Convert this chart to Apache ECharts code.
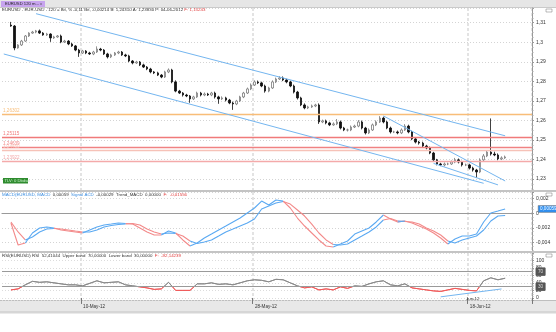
<!DOCTYPE html>
<html><head><meta charset="utf-8">
<script src="https://cdn.jsdelivr.net/npm/echarts@6/dist/echarts.min.js"></script>
<style>html,body{margin:0;padding:0;background:#fff}#c{width:556px;height:332px}</style>
</head><body><div id="c"></div><script>
// ---------- EUR/USD 6h bars: closes, opening price of the first bar, wick lengths (pips) ----------
const firstOpen = 1.3088;
const closes = [
 1.3083,1.2971,1.2986,1.3006,1.3032,1.3047,1.3052,1.3058,1.3047,1.3037,
 1.3042,1.3022,1.3027,1.3032,1.3001,1.3006,1.2991,1.2981,1.2960,1.2945,
 1.2955,1.2945,1.2940,1.2950,1.2965,1.2960,1.2940,1.2925,1.2935,1.2945,
 1.2950,1.2935,1.2930,1.2904,1.2894,1.2899,1.2884,1.2873,1.2863,1.2848,
 1.2843,1.2832,1.2822,1.2848,1.2858,1.2797,1.2750,1.2740,1.2730,1.2725,
 1.2710,1.2720,1.2740,1.2730,1.2735,1.2730,1.2740,1.2720,1.2710,1.2715,
 1.2704,1.2689,1.2684,1.2699,1.2720,1.2740,1.2761,1.2781,1.2797,1.2792,
 1.2776,1.2750,1.2766,1.2797,1.2812,1.2817,1.2807,1.2797,1.2776,1.2745,
 1.2715,1.2679,1.2664,1.2669,1.2674,1.2679,1.2592,1.2597,1.2587,1.2577,
 1.2582,1.2592,1.2561,1.2551,1.2551,1.2566,1.2571,1.2592,1.2561,1.2536,
 1.2551,1.2577,1.2592,1.2612,1.2592,1.2561,1.2541,1.2541,1.2536,1.2551,
 1.2571,1.2541,1.2505,1.2489,1.2484,1.2469,1.2459,1.2433,1.2398,1.2377,
 1.2372,1.2377,1.2377,1.2387,1.2398,1.2387,1.2372,1.2372,1.2356,1.2346,
 1.2336,1.2398,1.2418,1.2438,1.2428,1.2423,1.2403,1.2408,1.2413
];
const upperWickPips = [
 16,5,4,6,5,4,6,5,7,5,  6,4,6,5,7,6,5,6,5,6,  6,5,6,6,14,6,5,6,6,5,
 6,5,6,6,5,6,5,6,5,6,   5,6,5,6,8,6,8,6,5,6,  5,6,7,6,8,6,6,7,6,8,
 6,6,7,6,6,6,7,8,8,7,   6,7,6,8,7,9,8,6,6,7,  6,6,8,6,7,6,8,7,7,6,
 8,15,7,6,7,8,7,10,7,6, 8,7,8,10,7,6,7,6,7,8, 10,7,6,7,6,7,6,7,6,5,
 6,8,7,8,10,7,6,7,6,7,  6,8,10,10,172,12,8,8,7
];
const lowerWickPips = [
 4,12,4,5,4,5,4,6,5,4,  5,20,5,4,6,5,6,5,6,20, 5,6,5,6,5,6,5,8,6,5,
 6,5,6,6,7,5,6,5,6,7,   6,5,6,5,6,7,6,5,8,6,   20,6,5,7,6,5,6,8,25,6,
 7,6,30,6,5,6,5,6,5,6,  6,8,6,5,6,5,6,7,6,7,   8,6,7,6,5,6,10,6,7,6,
 5,6,7,6,8,6,5,6,7,8,   6,5,6,5,7,6,8,6,7,6,   5,7,6,7,8,6,7,6,8,7,
 6,7,6,5,6,7,8,6,7,8,   30,6,7,6,8,6,7,6,5
];

// ---------- indicators, one reading every second bar ----------
const macdValues = [
 -0.00132,-0.00431,-0.00404,-0.00268,-0.00200,-0.00186,-0.00200,-0.00227,-0.00241,-0.00254,
 -0.00268,-0.00227,-0.00186,-0.00159,-0.00146,-0.00132,-0.00139,-0.00146,-0.00200,-0.00254,
 -0.00295,-0.00295,-0.00241,-0.00268,-0.00363,-0.00445,-0.00404,-0.00336,-0.00282,-0.00227,
 -0.00173,-0.00118,-0.00064,0.00004,0.00072,0.00167,0.00113,0.00181,0.00167,0.00072,
 -0.00064,-0.00173,-0.00268,-0.00363,-0.00445,-0.00458,-0.00418,-0.00377,-0.00282,-0.00241,
 -0.00200,-0.00118,-0.00023,-0.00078,-0.00118,-0.00105,-0.00132,-0.00173,-0.00214,-0.00268,
 -0.00336,-0.00418,-0.00350,-0.00309,-0.00309,-0.00282,-0.00118,0.00004,0.00031,0.00059
];
const signalValues = [
 -0.00118,-0.00254,-0.00363,-0.00322,-0.00254,-0.00214,-0.00207,-0.00214,-0.00227,-0.00241,
 -0.00254,-0.00254,-0.00227,-0.00186,-0.00166,-0.00152,-0.00146,-0.00139,-0.00159,-0.00214,
 -0.00254,-0.00282,-0.00268,-0.00275,-0.00309,-0.00377,-0.00411,-0.00390,-0.00363,-0.00309,
 -0.00254,-0.00214,-0.00173,-0.00132,-0.00078,0.00058,0.00099,0.00140,0.00160,0.00126,
 0.00045,-0.00037,-0.00146,-0.00268,-0.00363,-0.00424,-0.00431,-0.00418,-0.00363,-0.00309,
 -0.00254,-0.00186,-0.00091,-0.00071,-0.00105,-0.00112,-0.00118,-0.00146,-0.00200,-0.00241,
 -0.00295,-0.00377,-0.00404,-0.00363,-0.00336,-0.00309,-0.00227,-0.00105,-0.00037,-0.00029
];
const rsiValues = [
 21.4,24.1,34.9,44.2,41.6,42.9,40.2,37.5,34.9,34.9,
 32.2,38.9,45.6,40.2,41.6,42.9,34.9,32.2,29.5,26.8,
 22.8,24.1,41.6,20.1,20.1,20.1,37.5,37.5,40.2,36.2,
 37.5,34.9,40.2,45.6,48.3,46.9,42.9,49.6,48.3,40.2,
 32.2,26.8,29.5,21.4,24.1,21.4,29.5,25.5,32.2,30.8,
 37.5,42.9,45.6,34.9,32.2,37.5,26.8,24.1,21.4,18.8,
 17.4,21.4,25.5,22.8,20.1,18.8,45.6,53.6,48.3,52.4
];
const indicatorStep = 2;

// ---------- drawn studies ----------
const levelPrices = [1.26302, 1.25115, 1.24639, 1.24450, 1.23922];
const levelColors = ['#f8bd78', '#f07a7a', '#f08282', '#f6c2b8', '#f4aaaa'];
// [barIndex, price] anchors of the trend lines
const priceTrendLines = [
  [[7, 1.31461], [138, 1.25212]],
  [[-2, 1.29398], [132, 1.22781]],
  [[104, 1.26230], [138, 1.22900]],
  [[118, 1.23800], [136, 1.22700]]
];
const rsiTrendLines = [[[120, 3.0], [137, 24.0]]];
const rsiBands = [70, 30];

// ---------- time axis ----------
const dateTicks = ['10-May-12', '28-May-12', '18-Jun-12'];
const monthNames = ['Jan','Feb','Mar','Apr','May','Jun','Jul','Aug','Sep','Oct','Nov','Dec'];
const slotCount = 148, leadSlots = 2;
const categories = [];
let t = Date.UTC(2012, 4, 2, 12);
while (categories.length < slotCount) {
  const d = new Date(t), dow = d.getUTCDay();
  if (dow !== 0 && dow !== 6) {
    categories.push(String(d.getUTCDate()).padStart(2, '0') + '-' + monthNames[d.getUTCMonth()] + '-' + String(d.getUTCFullYear()).slice(2));
  }
  t += 6 * 3600 * 1000;
}
const isDateTick = (i) => dateTicks.includes(categories[i]) && (i === 0 || categories[i - 1] !== categories[i]);

// ---------- build series data ----------
const candles = closes.map((c, k) => {
  const o = k === 0 ? firstOpen : closes[k - 1];
  const hi = Math.max(o, c) + upperWickPips[k] / 10000;
  const lo = Math.min(o, c) - lowerWickPips[k] / 10000;
  return [o, c, +lo.toFixed(5), +hi.toFixed(5)];
});
const candleData = categories.map((_, i) => {
  const k = i - leadSlots;
  return (k >= 0 && k < candles.length) ? candles[k] : '-';
});
const barOf = (j) => leadSlots + j * indicatorStep;

// MACD & signal are drawn blue while MACD leads, red otherwise
function splitLead(a, b) {
  const n = a.length, lead = [];
  for (let j = 0; j < n - 1; j++) lead.push(a[j + 1] >= b[j + 1]);
  const pick = (arr, want) => arr.map((v, j) => {
    const on = (j > 0 && lead[j - 1] === want) || (j < n - 1 && lead[j] === want);
    return [barOf(j), on ? v : '-'];
  });
  return { aUp: pick(a, true), aDn: pick(a, false), bUp: pick(b, true), bDn: pick(b, false) };
}
const ms = splitLead(macdValues, signalValues);
const rsiData = rsiValues.map((v, j) => [barOf(j), v]);

const BLUE = '#5aa9f2', RED = '#f38a8a', TREND = '#74b6f0';
const FONT = 'Liberation Sans';
const tinyLabel = { fontFamily: FONT, fontSize: 5, color: '#333' };

const grids = [
  { left: 2, right: 24, top: 8, height: 182 },
  { left: 2, right: 24, top: 192, height: 59 },
  { left: 2, right: 24, top: 253, height: 47 }
];
const xAxes = grids.map((g, gi) => ({
  type: 'category', gridIndex: gi, data: categories, boundaryGap: true,
  // the MACD panel's axis line sits on its zero level
  axisLine: gi === 1 ? { show: true, onZero: true, lineStyle: { color: '#9a9a9a', width: 1.2 } } : { show: false },
  axisTick: gi === 2 ? { show: true, interval: isDateTick, length: 6, lineStyle: { color: '#777' } } : { show: false },
  axisLabel: gi === 2 ? { show: true, interval: isDateTick, fontFamily: FONT, fontSize: 4.6, color: '#333', align: 'left', margin: 4, padding: [0, 0, 0, 0.5] } : { show: false },
  splitLine: { show: true, interval: isDateTick, lineStyle: { color: '#dadada', type: [3, 2], width: 1.5 } }
}));
const comma = (s) => s.replace('.', ',');
const yBase = {
  position: 'right', scale: true,
  axisLine: { show: true, onZero: false, lineStyle: { color: '#999' } },
  axisTick: { show: true, length: 2, lineStyle: { color: '#999' } },
  minorTick: { show: true, splitNumber: 4, length: 1.5, lineStyle: { color: '#aaa' } },
  splitLine: { show: true, lineStyle: { color: '#d4d4d4', type: [1, 2] } }
};
const yAxes = [
  Object.assign({}, yBase, { gridIndex: 0, min: 1.22438, max: 1.31752, minInterval: 0.01, maxInterval: 0.01,
    axisLabel: Object.assign({}, tinyLabel, { showMinLabel: false, showMaxLabel: false, margin: 4, formatter: v => comma(String(+v.toFixed(2))) }) }),
  Object.assign({}, yBase, { gridIndex: 1, min: -0.00513, max: 0.0029, minInterval: 0.002, maxInterval: 0.002,
    axisLabel: Object.assign({}, tinyLabel, { showMinLabel: false, showMaxLabel: false, margin: 4, formatter: v => Math.abs(v) < 1e-9 ? '0' : comma(v.toFixed(3)) }) }),
  Object.assign({}, yBase, { gridIndex: 2, min: -5.4, max: 119.5, minInterval: 20, maxInterval: 20,
    splitLine: { show: true, lineStyle: { color: '#dcdcdc', type: [1, 2] } },
    axisLabel: Object.assign({}, tinyLabel, { showMinLabel: false, showMaxLabel: false, margin: 4, formatter: v => String(Math.round(v)) }) })
];

const boxLabel = (bg, fg, text) => ({
  show: true, position: 'end', distance: 4, formatter: text, backgroundColor: bg, color: fg,
  fontFamily: FONT, fontSize: 4.6, padding: [1.5, 2, 1, 2], borderColor: '#666', borderWidth: 0.5
});
const lastClose = closes[closes.length - 1];
const lastMacd = macdValues[macdValues.length - 1];
const lastRsi = rsiValues[rsiValues.length - 1];
const markBase = { silent: true, symbol: ['none', 'none'], animation: false, precision: 6 };

const series = [
  {
    type: 'candlestick', xAxisIndex: 0, yAxisIndex: 0, data: candleData, barWidth: 2,
    itemStyle: { color: '#ffffff', color0: '#111111', borderColor: '#7a7a7a', borderColor0: '#111111', borderWidth: 0.8 },
    markLine: Object.assign({}, markBase, {
      data: [
        ...levelPrices.map((p, n) => ({
          yAxis: p, lineStyle: { color: levelColors[n], width: 1.3, type: 'solid' },
          label: { show: true, position: 'insideStartTop', distance: [1, 1], formatter: comma(p.toFixed(5)), color: levelColors[n], fontFamily: FONT, fontSize: 4.6 }
        })),
        ...priceTrendLines.map(l => [
          { coord: [l[0][0] + leadSlots, l[0][1]], lineStyle: { color: TREND, width: 1, type: 'solid' }, label: { show: false } },
          { coord: [l[1][0] + leadSlots, l[1][1]] }
        ]),
        { yAxis: lastClose, lineStyle: { opacity: 0 }, label: boxLabel('#f2471f', '#5a1000', comma(lastClose.toFixed(4))) }
      ]
    })
  },
  { type: 'line', xAxisIndex: 1, yAxisIndex: 1, data: ms.bDn, showSymbol: false, lineStyle: { color: RED, width: 1.1 }, z: 3 },
  { type: 'line', xAxisIndex: 1, yAxisIndex: 1, data: ms.bUp, showSymbol: false, lineStyle: { color: BLUE, width: 1.1 }, z: 3 },
  { type: 'line', xAxisIndex: 1, yAxisIndex: 1, data: ms.aDn, showSymbol: false, lineStyle: { color: RED, width: 1.1 }, z: 4 },
  { type: 'line', xAxisIndex: 1, yAxisIndex: 1, data: ms.aUp, showSymbol: false, lineStyle: { color: BLUE, width: 1.1 }, z: 4 },
  {
    type: 'line', xAxisIndex: 2, yAxisIndex: 2, data: rsiData, showSymbol: false, lineStyle: { width: 1 },
    markLine: Object.assign({}, markBase, {
      data: [
        ...rsiBands.map(b => ({ yAxis: b, lineStyle: { color: '#9a9a9a', width: 1.2, type: 'solid' }, label: boxLabel('#555555', '#dddddd', String(b)) })),
        ...rsiTrendLines.map(l => [
          { coord: [l[0][0] + leadSlots, l[0][1]], lineStyle: { color: TREND, width: 1, type: 'solid' }, label: { show: false } },
          { coord: [l[1][0] + leadSlots, l[1][1]] }
        ]),
        { yAxis: lastRsi, lineStyle: { opacity: 0 }, label: boxLabel('#f2471f', '#ffffff', comma(lastRsi.toFixed(2))) }
      ]
    })
  }
];

const txt = (x, y, rich, parts, z) => ({ type: 'text', left: x, top: y, z: z || 100, style: { rich, text: parts, font: '4.4px ' + FONT, fill: '#333' } });
const richBase = {
  k: { fontFamily: FONT, fontSize: 4.4, fill: '#333' },
  b: { fontFamily: FONT, fontSize: 4.4, fill: '#3b8de0' },
  r: { fontFamily: FONT, fontSize: 4.4, fill: '#e03a3a' }
};

const graphic = [
  { type: 'rect', shape: { x: 0, y: 0, width: 556, height: 7 }, style: { fill: '#e6e6e6' }, z: -1 },
  { type: 'rect', shape: { x: 0, y: 7, width: 556, height: 0.8 }, style: { fill: '#b8b8b8' }, z: -1 },
  { type: 'rect', shape: { x: 1, y: 1, width: 44, height: 6 }, style: { fill: '#c7a4ee' }, z: 1 },
  { type: 'text', left: 5, top: 2, z: 2, style: { text: 'EURUSD 120 m...', font: '4.2px ' + FONT, fill: '#222' } },
  { type: 'text', left: 40, top: 2, z: 2, style: { text: 'x', font: '4.2px ' + FONT, fill: '#555' } },
  txt(2, 8, richBase, '{k|EURUSD - EUR-USD - 120 = Bit, % -0,11 Bit, -0,00214 B: 1,24310 A: 1,23830 P: 04-06-2012} {r|F: 1,15243}'),
  { type: 'rect', shape: { x: 0, y: 190, width: 556, height: 2 }, style: { fill: '#c4c4c4' }, z: 5 },
  { type: 'rect', shape: { x: 0, y: 251, width: 556, height: 2 }, style: { fill: '#c4c4c4' }, z: 5 },
  txt(2, 192.3, richBase, '{b|MACD(EURUSD, MACD}{k|  0,00059  }{b|Signal ACD}{k|  -0,00029  Trend_MACD  0,00000  }{r|F:  -0,01556}'),
  txt(2, 253.3, richBase, '{k|RSI(EURUSD) RSI  52,41044  Upper band  70,00000  Lower band  30,00000  }{r|F:  -92,14239}'),
  { type: 'rect', shape: { x: 3, y: 178, width: 25, height: 5.5 }, style: { fill: '#2e8b2e' }, z: 50 },
  { type: 'text', left: 4.5, top: 178.8, z: 51, style: { text: 'TLV: 0 Dbdsd', font: '4.2px ' + FONT, fill: '#c8f0c8' } },
  { type: 'rect', shape: { x: 0, y: 300, width: 556, height: 11 }, style: { fill: '#e8e8e8' }, z: -1 },
  { type: 'rect', shape: { x: 0, y: 300, width: 556, height: 0.8 }, style: { fill: '#b0b0b0' }, z: -1 },
  { type: 'rect', shape: { x: 0, y: 311, width: 556, height: 2.5 }, style: { fill: '#d6d6d6' }, z: -1 },
  { type: 'text', left: 466, top: 297.2, z: 60, style: { text: 'Jun-12', font: '4.4px ' + FONT, fill: '#333' } },
  { type: 'rect', shape: { x: 546, y: 9, width: 6, height: 3 }, style: { fill: '#fff', stroke: '#777', lineWidth: 0.5 }, z: 60 },
  { type: 'rect', shape: { x: 546, y: 193, width: 6, height: 3 }, style: { fill: '#fff', stroke: '#777', lineWidth: 0.5 }, z: 60 },
  { type: 'rect', shape: { x: 546, y: 254, width: 6, height: 3 }, style: { fill: '#fff', stroke: '#777', lineWidth: 0.5 }, z: 60 }
];

const chart = echarts.init(document.getElementById('c'), null, { renderer: 'canvas' });
chart.setOption({
  animation: false,
  backgroundColor: '#ffffff',
  grid: grids,
  xAxis: xAxes,
  yAxis: yAxes,
  visualMap: [{
    show: false, type: 'piecewise', seriesIndex: 5, dimension: 1,
    pieces: [{ min: -10, max: 30, color: '#ef5a5a' }, { min: 30, max: 130, color: '#8a8a8a' }]
  }],
  series,
  graphic
});

// last MACD reading tag on the right scale, placed through the MACD axis
const macdTagY = chart.convertToPixel({ yAxisIndex: 1 }, lastMacd);
const axisX = chart.convertToPixel({ xAxisIndex: 1 }, slotCount - 1) + 535 - 527;
chart.setOption({
  graphic: graphic.concat([
    { type: 'rect', z: 70, shape: { x: axisX, y: macdTagY - 3.4, width: 19, height: 6.8 }, style: { fill: '#2f8ff0', stroke: '#666', lineWidth: 0.5 } },
    { type: 'text', z: 71, left: axisX + 1.8, top: macdTagY - 2.4, style: { text: comma(lastMacd.toFixed(5)), font: '4.6px ' + FONT, fill: '#ffffff' } }
  ])
});
</script></body></html>
